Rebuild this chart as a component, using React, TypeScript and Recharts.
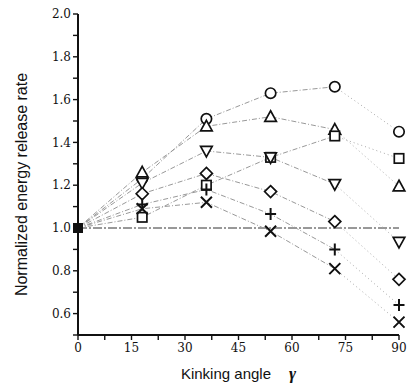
import React from 'react';
import { ComposedChart, Line, XAxis, YAxis, ReferenceLine } from 'recharts';

// kinking angle (deg) of each measured point
const angles = [0, 18, 36, 54, 72, 90];

// normalized energy release rate, one list per marker
const circleVals = [1.0, 1.23, 1.51, 1.63, 1.66, 1.45];
const triangleVals = [1.0, 1.26, 1.475, 1.52, 1.46, 1.195];
const squareVals = [1.0, 1.05, 1.2, 1.33, 1.43, 1.325];
const triangleDownVals = [1.0, 1.21, 1.36, 1.33, 1.205, 0.935];
const diamondVals = [1.0, 1.16, 1.255, 1.17, 1.03, 0.76];
const plusVals = [1.0, 1.11, 1.18, 1.065, 0.9, 0.64];
const crossVals = [1.0, 1.09, 1.12, 0.985, 0.81, 0.56];

const originValue = 1.0;
const baseline = 1.0;

const xTicks = [0, 7.5, 15, 22.5, 30, 37.5, 45, 52.5, 60, 67.5, 75, 82.5, 90];
const yTicks = [0.5, 0.6, 0.7, 0.8, 0.9, 1.0, 1.1, 1.2, 1.3, 1.4, 1.5, 1.6, 1.7, 1.8, 1.9, 2.0];

type Shape = 'circle' | 'triangle' | 'square' | 'triangleDown' | 'diamond' | 'plus' | 'cross';

const series: { key: string; shape: Shape; values: number[] }[] = [
  { key: 'circle', shape: 'circle', values: circleVals },
  { key: 'triangle', shape: 'triangle', values: triangleVals },
  { key: 'square', shape: 'square', values: squareVals },
  { key: 'triangleDown', shape: 'triangleDown', values: triangleDownVals },
  { key: 'diamond', shape: 'diamond', values: diamondVals },
  { key: 'plus', shape: 'plus', values: plusVals },
  { key: 'cross', shape: 'cross', values: crossVals },
];

// main segment runs 0..72, the last step to 90 is drawn separately (dotted)
const tailStart = 4;

const rows = angles.map((x, i) => {
  const row: Record<string, number | null> = { x, origin: i === 0 ? originValue : null };
  series.forEach((s) => {
    row[s.key] = i <= tailStart ? s.values[i] : null;
    row[s.key + 'Tail'] = i >= tailStart ? s.values[i] : null;
  });
  return row;
});

const INK = '#111';

function Marker({ shape, cx, cy }: { shape: Shape; cx: number; cy: number }) {
  const common = { fill: '#fff', stroke: INK, strokeWidth: 1.7 };
  switch (shape) {
    case 'circle':
      return <circle cx={cx} cy={cy} r={5.2} {...common} />;
    case 'square':
      return <rect x={cx - 4.7} y={cy - 4.7} width={9.4} height={9.4} {...common} />;
    case 'triangle':
      return <path d={`M${cx},${cy - 6} L${cx + 5.8},${cy + 4.6} L${cx - 5.8},${cy + 4.6} Z`} {...common} />;
    case 'triangleDown':
      return <path d={`M${cx},${cy + 6} L${cx + 5.8},${cy - 4.6} L${cx - 5.8},${cy - 4.6} Z`} {...common} />;
    case 'diamond':
      return <path d={`M${cx},${cy - 6} L${cx + 6},${cy} L${cx},${cy + 6} L${cx - 6},${cy} Z`} {...common} />;
    case 'plus':
      return <path d={`M${cx - 5.5},${cy} L${cx + 5.5},${cy} M${cx},${cy - 6} L${cx},${cy + 6}`} stroke={INK} strokeWidth={2} fill="none" />;
    case 'cross':
      return <path d={`M${cx - 5.5},${cy - 5.5} L${cx + 5.5},${cy + 5.5} M${cx + 5.5},${cy - 5.5} L${cx - 5.5},${cy + 5.5}`} stroke={INK} strokeWidth={2} fill="none" />;
  }
  return null;
}

const makeDot = (shape: Shape, onlyLast: boolean) => (props: any) => {
  const { cx, cy, index, value, dataKey } = props;
  const k = `${dataKey}-${index}`;
  if (cx == null || cy == null || value == null) return <g key={k} />;
  // skip the origin (drawn as the filled square) and, on tails, the 72° point
  if (index === 0) return <g key={k} />;
  if (onlyLast && index !== angles.length - 1) return <g key={k} />;
  return (
    <g key={k}>
      <Marker shape={shape} cx={cx} cy={cy} />
    </g>
  );
};

const originDot = (props: any) => {
  const { cx, cy, index, value } = props;
  if (cx == null || cy == null || value == null) return <g key={`o-${index}`} />;
  return <rect key={`o-${index}`} x={cx - 5} y={cy - 5} width={10} height={10} fill={INK} />;
};

const tickFont = { fontFamily: '"DejaVu Serif", serif', fontSize: 12, fill: INK };

export default function App() {
  return (
    <div style={{ position: 'absolute', left: 0, top: 0, width: 407, height: 387, background: '#fff' }}>
      <ComposedChart width={407} height={387} data={rows} margin={{ top: 14, right: 8, bottom: 0, left: 0 }}>
        <XAxis
          type="number"
          dataKey="x"
          domain={[0, 90]}
          ticks={xTicks}
          interval={0}
          tickFormatter={(v: number) => (v % 15 === 0 ? String(v) : '')}
          tick={tickFont}
          tickSize={5}
          tickMargin={3}
          tickLine={{ stroke: INK, strokeWidth: 1.4 }}
          axisLine={{ stroke: INK, strokeWidth: 2 }}
          height={52}
          label={{
            content: (p: any) => {
              const vb = p.viewBox;
              return (
                <text
                  x={vb.x + vb.width / 2}
                  y={vb.y + 44}
                  textAnchor="middle"
                  fontFamily='"Liberation Sans", Arial, sans-serif'
                  fontSize={15}
                  fill={INK}
                >
                  Kinking angle
                  <tspan dx={18} fontFamily='"Liberation Serif", serif' fontStyle="italic" fontWeight="bold" fontSize={17}>
                    γ
                  </tspan>
                </text>
              );
            },
          }}
        />
        <YAxis
          type="number"
          domain={[0.5, 2.0]}
          ticks={yTicks}
          interval={0}
          allowDataOverflow
          tickFormatter={(v: number) => (Math.round(v * 10) % 2 === 0 ? v.toFixed(1) : '')}
          tick={tickFont}
          tickSize={5}
          tickMargin={2}
          tickLine={{ stroke: INK, strokeWidth: 1.4 }}
          axisLine={{ stroke: INK, strokeWidth: 2 }}
          width={78}
          label={{
            content: (p: any) => {
              const vb = p.viewBox;
              const cy = vb.y + vb.height / 2 + 10;
              return (
                <text
                  x={27}
                  y={cy}
                  transform={`rotate(-90, 27, ${cy})`}
                  textAnchor="middle"
                  fontFamily='"Liberation Sans", Arial, sans-serif'
                  fontSize={16}
                  fill={INK}
                >
                  Normalized energy release rate
                </text>
              );
            },
          }}
        />
        <ReferenceLine y={baseline} stroke="#333" strokeWidth={1} strokeDasharray="9 2 2 2" />
        {series.map((s) => (
          <Line
            key={s.key + 'Tail'}
            dataKey={s.key + 'Tail'}
            stroke="#aaa"
            strokeWidth={1}
            strokeDasharray="1 3"
            dot={makeDot(s.shape, true)}
            activeDot={false}
            isAnimationActive={false}
            connectNulls={false}
          />
        ))}
        {series.map((s) => (
          <Line
            key={s.key}
            dataKey={s.key}
            stroke="#999"
            strokeWidth={1}
            strokeDasharray="5 2 1 2"
            dot={makeDot(s.shape, false)}
            activeDot={false}
            isAnimationActive={false}
            connectNulls={false}
          />
        ))}
        <Line
          dataKey="origin"
          stroke="none"
          dot={originDot}
          activeDot={false}
          isAnimationActive={false}
        />
      </ComposedChart>
    </div>
  );
}
